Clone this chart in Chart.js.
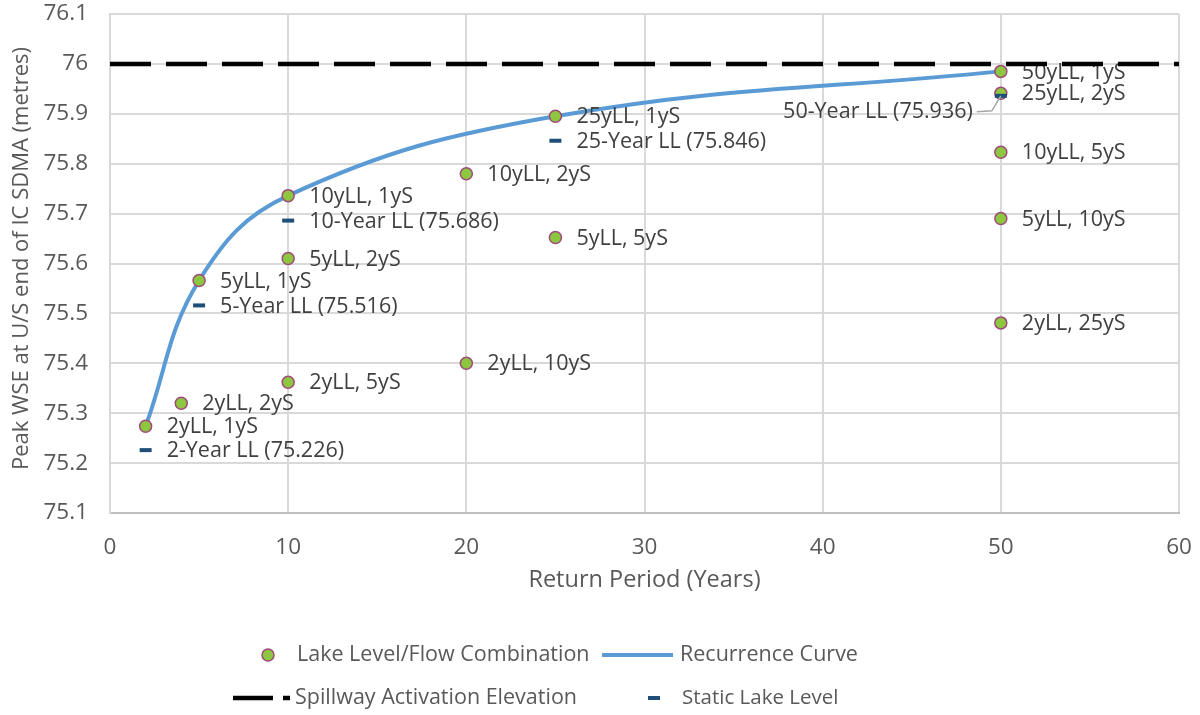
<!DOCTYPE html>
<html>
<head>
<meta charset="utf-8">
<script src="https://cdn.jsdelivr.net/npm/chart.js@4.4.1/dist/chart.umd.min.js"></script>
<style>
  html, body { margin: 0; padding: 0; background: #ffffff; }
  #wrap { width: 1200px; height: 715px; position: relative; }
</style>
</head>
<body>
<div id="wrap"><canvas id="c" width="1200" height="715"></canvas></div>
<script>
// Lake level / flow combinations
const comboReturnPeriod = [2, 4, 5, 10, 10, 10, 20, 20, 25, 25, 50, 50, 50, 50, 50];
const comboPeakWSE = [75.274, 75.320, 75.566, 75.736, 75.610, 75.362, 75.780, 75.400, 75.895, 75.652, 75.985, 75.941, 75.823, 75.690, 75.481];
const comboLabels = ['2yLL, 1yS', '2yLL, 2yS', '5yLL, 1yS', '10yLL, 1yS', '5yLL, 2yS', '2yLL, 5yS', '10yLL, 2yS', '2yLL, 10yS',
  '25yLL, 1yS', '5yLL, 5yS', '50yLL, 1yS', '25yLL, 2yS', '10yLL, 5yS', '5yLL, 10yS', '2yLL, 25yS'];

// Recurrence curve through the single-storm combinations
const curveReturnPeriod = [2, 5, 10, 25, 50];
const curvePeakWSE = [75.274, 75.566, 75.736, 75.895, 75.985];

// Static lake levels
const staticReturnPeriod = [2, 5, 10, 25, 50];
const staticLakeLevel = [75.226, 75.516, 75.686, 75.846, 75.936];
const staticLabels = ['2-Year LL (75.226)', '5-Year LL (75.516)', '10-Year LL (75.686)', '25-Year LL (75.846)', '50-Year LL (75.936)'];

// Spillway activation elevation
const spillwayReturnPeriod = [0, 60];
const spillwayElevation = [76, 76];

// Axis ticks
const xTickValues = [0, 10, 20, 30, 40, 50, 60];
const yTickValues = [75.1, 75.2, 75.3, 75.4, 75.5, 75.6, 75.7, 75.8, 75.9, 76.0, 76.1];
const yTickLabels = ['75.1', '75.2', '75.3', '75.4', '75.5', '75.6', '75.7', '75.8', '75.9', '76', '76.1'];

const Y_TITLE = 'Peak WSE at U/S end of IC SDMA (metres)';
const X_TITLE = 'Return Period (Years)';

const FONT = '"Open Sans", Lato, sans-serif';
const TEXT = '#595959';
const LABEL = '#404040';
const GREEN = '#8DC63F';
const PURPLE = '#9E4A7A';
const BLUE = '#5B9BD5';
const NAVY = '#1F4E79';
const GRID = '#d9d9d9';

const pts = (xs, ys) => xs.map((x, i) => ({ x: x, y: ys[i] }));

// Scale boxes sized exactly so the plot area lands where intended
const fixBox = (size) => (s) => {
  if (s.isHorizontal()) s.height = size; else s.width = size;
  s.paddingTop = 0; s.paddingBottom = 0; s.paddingLeft = 0; s.paddingRight = 0;
};

// Rotated value-axis title
const yTitle = {
  id: 'yTitle',
  afterDraw(chart) {
    const ctx = chart.ctx;
    ctx.save();
    ctx.translate(22, 258.5);
    ctx.rotate(-Math.PI / 2);
    ctx.font = '22px ' + FONT;
    ctx.fillStyle = TEXT;
    ctx.textAlign = 'center';
    ctx.textBaseline = 'middle';
    ctx.fillText(Y_TITLE, 0, 0);
    ctx.restore();
  }
};

// Point labels, drawn right after their own dataset
const pointLabels = {
  id: 'pointLabels',
  afterDatasetDraw(chart, args) {
    const ctx = chart.ctx;
    const ds = chart.data.datasets[args.index];
    if (!ds.pointText) return;
    ctx.save();
    ctx.font = '21.5px ' + FONT;
    ctx.fillStyle = LABEL;
    ctx.textBaseline = 'middle';
    args.meta.data.forEach((el, i) => {
      const txt = ds.pointText[i];
      if (ds.leftLabelIndex === i) {
        // label placed to the left with a leader line
        const lx = el.x - 28, ly = el.y + 16;
        ctx.textAlign = 'right';
        ctx.fillText(txt, lx, ly);
        ctx.strokeStyle = '#a6a6a6';
        ctx.lineWidth = 1.5;
        ctx.beginPath();
        ctx.moveTo(lx + 4, ly);
        ctx.lineTo(el.x - 9, ly - 1);
        ctx.lineTo(el.x, el.y);
        ctx.stroke();
      } else {
        ctx.textAlign = 'left';
        ctx.fillText(txt, el.x + 21, el.y + 1);
      }
    });
    ctx.restore();
  }
};

// Legend below the plot, two rows
const legendRows = {
  id: 'legendRows',
  afterDraw(chart) {
    const ctx = chart.ctx;
    ctx.save();
    ctx.font = '21.5px ' + FONT;
    ctx.fillStyle = TEXT;
    ctx.textBaseline = 'middle';
    ctx.textAlign = 'left';
    const y1 = 655, y2 = 698;
    // Lake Level/Flow Combination
    ctx.beginPath();
    ctx.arc(268, y1, 6, 0, Math.PI * 2);
    ctx.fillStyle = GREEN; ctx.fill();
    ctx.lineWidth = 1.5; ctx.strokeStyle = PURPLE; ctx.stroke();
    ctx.fillStyle = TEXT;
    ctx.fillText('Lake Level/Flow Combination', 297, y1);
    // Recurrence Curve
    ctx.strokeStyle = BLUE; ctx.lineWidth = 4;
    ctx.beginPath(); ctx.moveTo(602, y1); ctx.lineTo(673, y1); ctx.stroke();
    ctx.fillText('Recurrence Curve', 680, y1);
    // Spillway Activation Elevation
    ctx.strokeStyle = '#000000'; ctx.lineWidth = 4.5;
    ctx.beginPath(); ctx.moveTo(233, y2); ctx.lineTo(273, y2); ctx.moveTo(283, y2); ctx.lineTo(290, y2); ctx.stroke();
    ctx.fillText('Spillway Activation Elevation', 295, y2);
    // Static Lake Level
    ctx.strokeStyle = NAVY; ctx.lineWidth = 4;
    ctx.beginPath(); ctx.moveTo(648, y2); ctx.lineTo(660, y2); ctx.stroke();
    ctx.font = '20.5px ' + FONT;
    ctx.fillText('Static Lake Level', 682, y2);
    ctx.restore();
  }
};

new Chart(document.getElementById('c'), {
  type: 'scatter',
  data: {
    datasets: [
      {
        label: 'Spillway Activation Elevation',
        type: 'line',
        data: pts(spillwayReturnPeriod, spillwayElevation),
        borderColor: '#000000',
        borderWidth: 4.5,
        borderDash: [41, 15],
        borderCapStyle: 'butt',
        pointRadius: 0,
        fill: false,
        order: 0
      },
      {
        label: 'Static Lake Level',
        data: pts(staticReturnPeriod, staticLakeLevel),
        pointStyle: 'line',
        pointRadius: 6,
        pointBorderWidth: 4,
        pointBorderColor: NAVY,
        pointBackgroundColor: NAVY,
        pointText: staticLabels,
        leftLabelIndex: 4,
        order: 1
      },
      {
        label: 'Lake Level/Flow Combination',
        data: pts(comboReturnPeriod, comboPeakWSE),
        pointStyle: 'circle',
        pointRadius: 6,
        pointBorderWidth: 1.5,
        pointBackgroundColor: GREEN,
        pointBorderColor: PURPLE,
        pointText: comboLabels,
        order: 2
      },
      {
        label: 'Recurrence Curve',
        type: 'line',
        data: pts(curveReturnPeriod, curvePeakWSE),
        borderColor: BLUE,
        borderWidth: 4,
        tension: 0.4,
        pointRadius: 0,
        fill: false,
        order: 3
      }
    ]
  },
  options: {
    responsive: false,
    animation: false,
    devicePixelRatio: 1,
    layout: { padding: { top: 14, right: 21, bottom: 120, left: 0 } },
    plugins: { legend: { display: false }, tooltip: { enabled: false } },
    scales: {
      x: {
        type: 'linear',
        min: 0, max: 60,
        afterBuildTicks: (s) => { s.ticks = xTickValues.map(v => ({ value: v })); },
        afterFit: fixBox(82),
        ticks: { color: TEXT, font: { family: FONT, size: 22.5 }, padding: 21 },
        grid: { color: GRID, lineWidth: 2, drawTicks: false },
        border: { color: '#bfbfbf', width: 2 },
        title: { display: true, text: X_TITLE, color: TEXT, font: { family: FONT, size: 23.5 }, padding: { top: 0, bottom: 1 } }
      },
      y: {
        type: 'linear',
        min: 75.1, max: 76.1,
        afterBuildTicks: (s) => { s.ticks = yTickValues.map(v => ({ value: v })); },
        afterFit: fixBox(110),
        ticks: { color: TEXT, font: { family: FONT, size: 22.5 }, padding: 22, callback: (v, i) => yTickLabels[i] },
        grid: { color: GRID, lineWidth: 2, drawTicks: false },
        border: { color: GRID, width: 2 },
        title: { display: false }
      }
    }
  },
  plugins: [pointLabels, legendRows, yTitle]
});
</script>
</body>
</html>
